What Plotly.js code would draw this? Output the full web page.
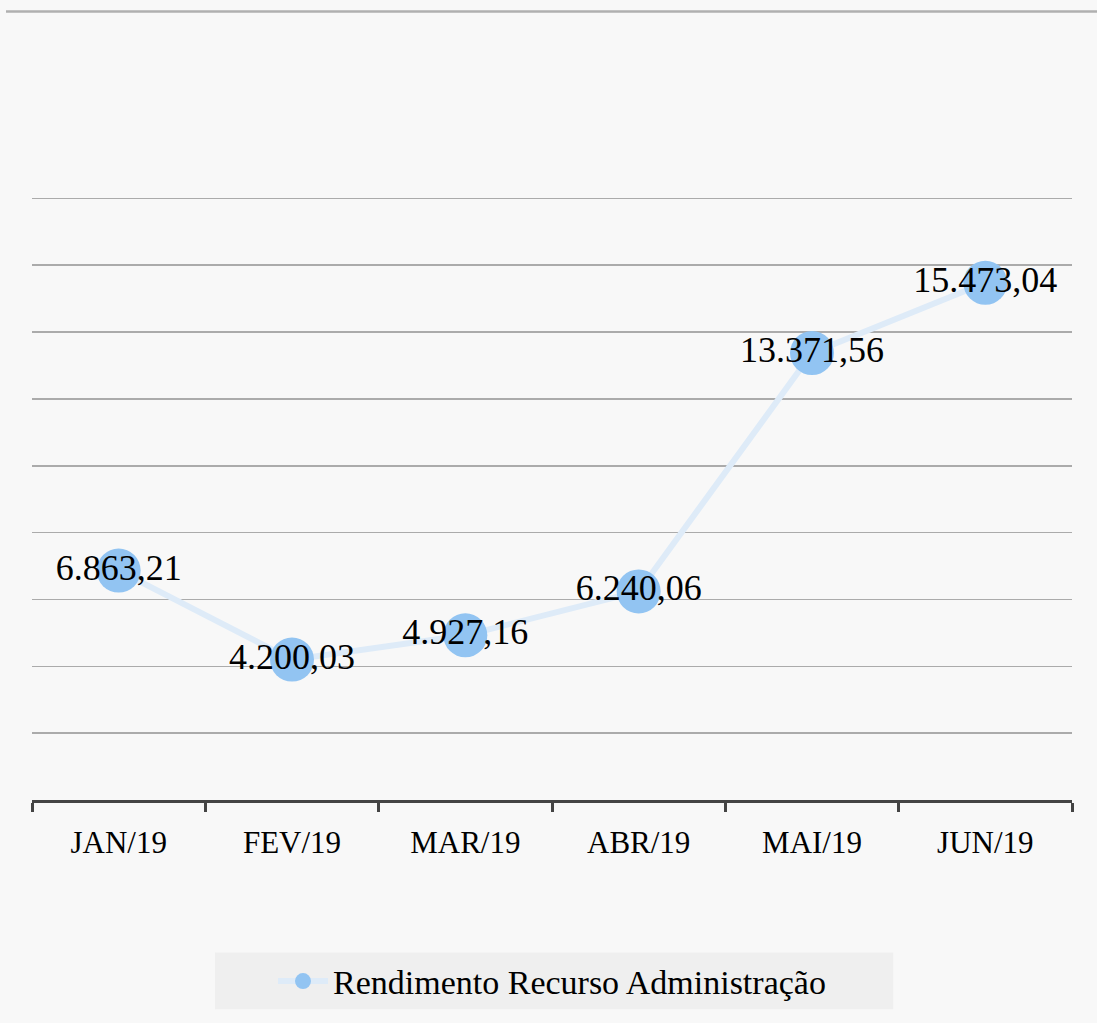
<!DOCTYPE html>
<html>
<head>
<meta charset="utf-8">
<script src="https://cdn.plot.ly/plotly-3.0.1.min.js"></script>
<style>html,body{margin:0;padding:0;background:#f8f8f8;}#chart{width:1097px;height:1023px;}</style>
</head>
<body>
<div id="chart"></div>
<script>
const categories = ["JAN/19", "FEV/19", "MAR/19", "ABR/19", "MAI/19", "JUN/19"];
const values = [6863.21, 4200.03, 4927.16, 6240.06, 13371.56, 15473.04];
const seriesName = "Rendimento Recurso Administração";

const FONT = "Liberation Serif, Times New Roman, serif";

const trace = {
  x: categories,
  y: values,
  type: "scatter",
  mode: "lines+markers+text",
  name: seriesName,
  line: {color: "rgb(222,235,248)", width: 6},
  marker: {size: 44, color: "rgb(146,196,242)"},
  texttemplate: "%{y:,.2f}",
  textposition: "middle center",
  textfont: {family: FONT, size: 36, color: "#000"},
  cliponaxis: false,
  hoverinfo: "skip"
};

const layout = {
  width: 1097,
  height: 1023,
  separators: ",.",
  paper_bgcolor: "#f8f8f8",
  plot_bgcolor: "#f8f8f8",
  margin: {l: 32, r: 25, t: 195, b: 221},
  font: {family: FONT, color: "#000"},
  showlegend: true,
  legend: {
    orientation: "h",
    x: 0.5, xanchor: "center",
    y: -0.30, yanchor: "middle",
    bgcolor: "rgba(0,0,0,0)",
    font: {family: FONT, size: 34, color: "#000"},
    itemwidth: 50
  },
  xaxis: {
    type: "category",
    tickson: "boundaries",
    ticks: "outside",
    ticklen: 9,
    tickwidth: 3,
    tickcolor: "#444",
    showline: true,
    linecolor: "#444",
    linewidth: 3,
    showgrid: false,
    zeroline: false,
    tickfont: {family: FONT, size: 31, color: "#000"},
    ticklabelstandoff: 13,
    range: [-0.5, 5.5]
  },
  yaxis: {
    range: [0, 18100],
    dtick: 2000,
    showticklabels: false,
    showgrid: true,
    gridcolor: "#ababab",
    gridwidth: 1.5,
    zeroline: false,
    showline: false,
    fixedrange: true
  },
  shapes: [
    {
      type: "line", xref: "paper", yref: "paper",
      x0: -0.025, x1: 1.03, y0: 1.3031, y1: 1.3031,
      line: {color: "#b0b0b0", width: 2.5}
    },
    {
      type: "rect", xref: "paper", yref: "paper", layer: "below",
      x0: 0.176, x1: 0.828, y0: -0.346, y1: -0.252,
      fillcolor: "#efefef", line: {width: 0}
    }
  ]
};

Plotly.newPlot("chart", [trace], layout, {displayModeBar: false, staticPlot: true});
</script>
</body>
</html>
